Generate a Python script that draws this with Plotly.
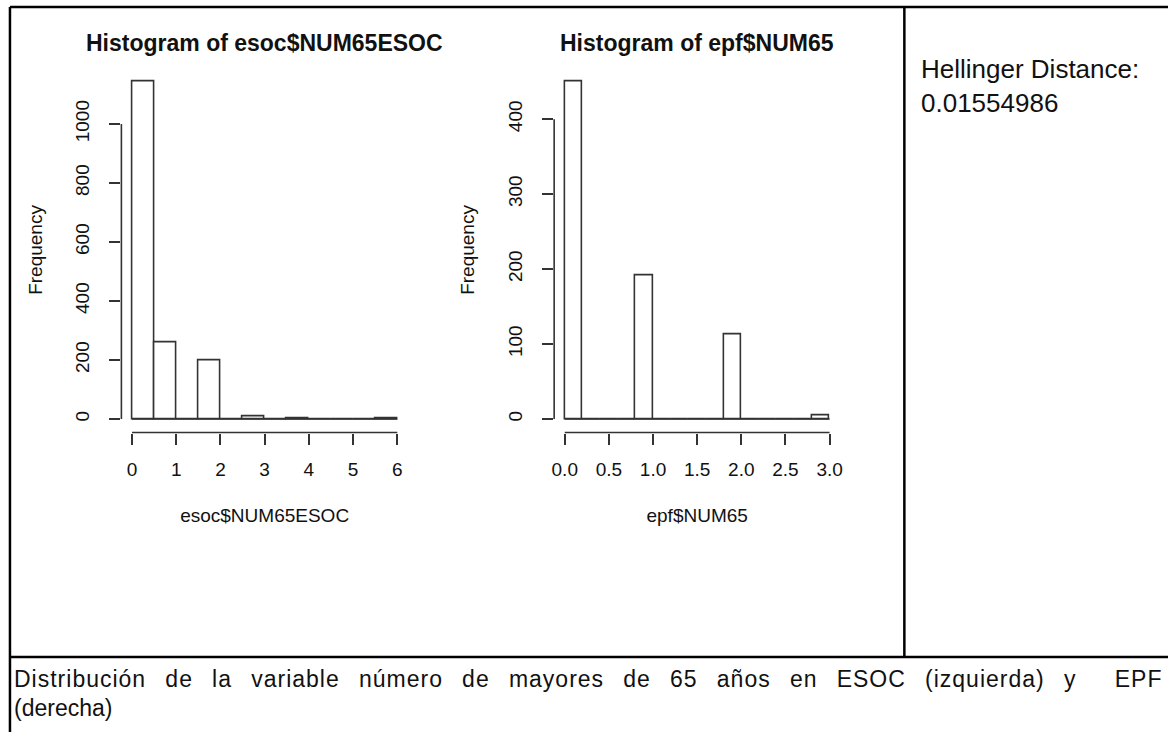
import numpy as np
import plotly.graph_objects as go

# ---- data -------------------------------------------------------------
esoc_edges = [0, 0.5, 1, 1.5, 2, 2.5, 3, 3.5, 4, 4.5, 5, 5.5, 6]
esoc_counts = [1146, 258, 0, 198, 0, 9, 0, 3, 0, 0, 0, 3]
esoc_ticks = [0, 1, 2, 3, 4, 5, 6]
esoc_yticks = [0, 200, 400, 600, 800, 1000]

epf_edges = [0, 0.2, 0.4, 0.6, 0.8, 1.0, 1.2, 1.4, 1.6, 1.8, 2.0, 2.2, 2.4, 2.6, 2.8, 3.0]
epf_counts = [451, 0, 0, 0, 192, 0, 0, 0, 0, 113, 0, 0, 0, 0, 5]
epf_ticks = [0, 0.5, 1.0, 1.5, 2.0, 2.5, 3.0]
epf_tick_labels = ["0.0", "0.5", "1.0", "1.5", "2.0", "2.5", "3.0"]
epf_yticks = [0, 100, 200, 300, 400]

hellinger = "0.01554986"
caption_line1 = ("Distribución de la variable número de mayores de 65 años "
                 "en ESOC (izquierda) y  EPF")
caption_line2 = "(derecha)"

# ---- page geometry (pixels) -------------------------------------------
W, H = 1171, 732
FONT = "Liberation Sans, Arial, sans-serif"
INK = "#333333"


def px_x(p):
    return p / W


def px_y(p):
    return 1 - p / H


def r_range(lo, hi):
    pad = 0.04 * (hi - lo)
    return [lo - pad, hi + pad]


fig = go.Figure()

panels = [
    dict(edges=esoc_edges, counts=esoc_counts, xt=esoc_ticks,
         xl=[str(t) for t in esoc_ticks], yt=esoc_yticks,
         title="Histogram of esoc$NUM65ESOC", xtitle="esoc$NUM65ESOC",
         left=119, right=407, ax="x", ay="y"),
    dict(edges=epf_edges, counts=epf_counts, xt=epf_ticks,
         xl=epf_tick_labels, yt=epf_yticks,
         title="Histogram of epf$NUM65", xtitle="epf$NUM65",
         left=554, right=841.5, ax="x2", ay="y2"),
]
TOP, BOTTOM = 67.4, 432.5

shapes = []
annotations = []
for i, p in enumerate(panels):
    edges = np.array(p["edges"], dtype=float)
    counts = np.array(p["counts"], dtype=float)
    centers = (edges[:-1] + edges[1:]) / 2
    widths = np.diff(edges)
    fig.add_trace(go.Bar(
        x=centers, y=counts, width=widths, base=0,
        marker=dict(color="white", line=dict(color=INK, width=1.6)),
        xaxis=p["ax"], yaxis=p["ay"], showlegend=False,
        hoverinfo="x+y",
    ))
    sfx = "" if i == 0 else "2"
    xr = r_range(edges[0], edges[-1])
    yr = r_range(0, counts.max())
    common = dict(showgrid=False, zeroline=False, showline=False,
                  ticks="outside", ticklen=11, tickwidth=1.6, tickcolor=INK,
                  tickfont=dict(family=FONT, size=19, color="#111111"))
    fig.update_layout(**{
        f"xaxis{sfx}": dict(domain=[px_x(p["left"]), px_x(p["right"])],
                            range=xr, tickvals=p["xt"], ticktext=p["xl"],
                            anchor=f"y{sfx}", ticklabelstandoff=9,
                            title=dict(text=p["xtitle"], standoff=29,
                                       font=dict(family=FONT, size=19, color="#111111")),
                            **common),
        f"yaxis{sfx}": dict(domain=[px_y(BOTTOM), px_y(TOP)], range=yr,
                            tickvals=p["yt"], tickangle=-90,
                            anchor=f"x{sfx}", ticklabelstandoff=13,
                            title=dict(text="Frequency", standoff=24,
                                       font=dict(family=FONT, size=19, color="#111111")),
                            **common),
    })
    xref = p["ax"]
    yref = p["ay"]
    # detached R-style axis lines spanning the tick range
    shapes.append(dict(type="line", xref=f"{xref} domain", yref=yref,
                       x0=0, x1=0, y0=p["yt"][0], y1=p["yt"][-1],
                       line=dict(color=INK, width=1.6)))
    shapes.append(dict(type="line", xref=xref, yref=f"{yref} domain",
                       x0=p["xt"][0], x1=p["xt"][-1], y0=0, y1=0,
                       line=dict(color=INK, width=1.6)))
    # baseline under empty bins
    shapes.append(dict(type="line", xref=xref, yref=yref,
                       x0=edges[0], x1=edges[-1], y0=0, y1=0,
                       line=dict(color=INK, width=1.6)))
    annotations.append(dict(text=f"<b>{p['title']}</b>", xref=f"{xref} domain",
                            yref="paper", x=0.5, y=px_y(43), xanchor="center",
                            yanchor="middle", showarrow=False,
                            font=dict(family=FONT, size=23, color="#111111")))

# ---- table frame ------------------------------------------------------
frame = dict(color="black", width=2.5)
for x0, y0, x1, y1 in [(7, 7, W, 7), (7, 7, 7, H), (906, 7, 906, 657),
                       (7, 657, W, 657)]:
    shapes.append(dict(type="line", xref="paper", yref="paper",
                       x0=px_x(x0), x1=px_x(x1), y0=px_y(y0), y1=px_y(y1),
                       line=frame))

annotations.append(dict(text=f"Hellinger Distance:<br>{hellinger}",
                        xref="paper", yref="paper", x=px_x(921), y=px_y(52),
                        xanchor="left", yanchor="top", align="left",
                        showarrow=False,
                        font=dict(family=FONT, size=26, color="#111111")))
CAP_FONT = "Liberation Sans Narrow, Arial Narrow, Liberation Sans, sans-serif"
annotations.append(dict(
    text=f'<span style="letter-spacing:1px;word-spacing:11.8px">{caption_line1}</span>',
    xref="paper", yref="paper", x=px_x(9), y=px_y(679),
    xanchor="left", yanchor="middle", align="left", showarrow=False,
    font=dict(family=CAP_FONT, size=23, color="#111111")))
annotations.append(dict(
    text=caption_line2, xref="paper", yref="paper", x=px_x(9), y=px_y(708),
    xanchor="left", yanchor="middle", align="left", showarrow=False,
    font=dict(family=CAP_FONT, size=23, color="#111111")))

fig.update_layout(
    width=W, height=H, margin=dict(l=0, r=0, t=0, b=0),
    paper_bgcolor="white", plot_bgcolor="white",
    shapes=shapes, annotations=annotations, bargap=0,
)

fig.write_html("out.html")
